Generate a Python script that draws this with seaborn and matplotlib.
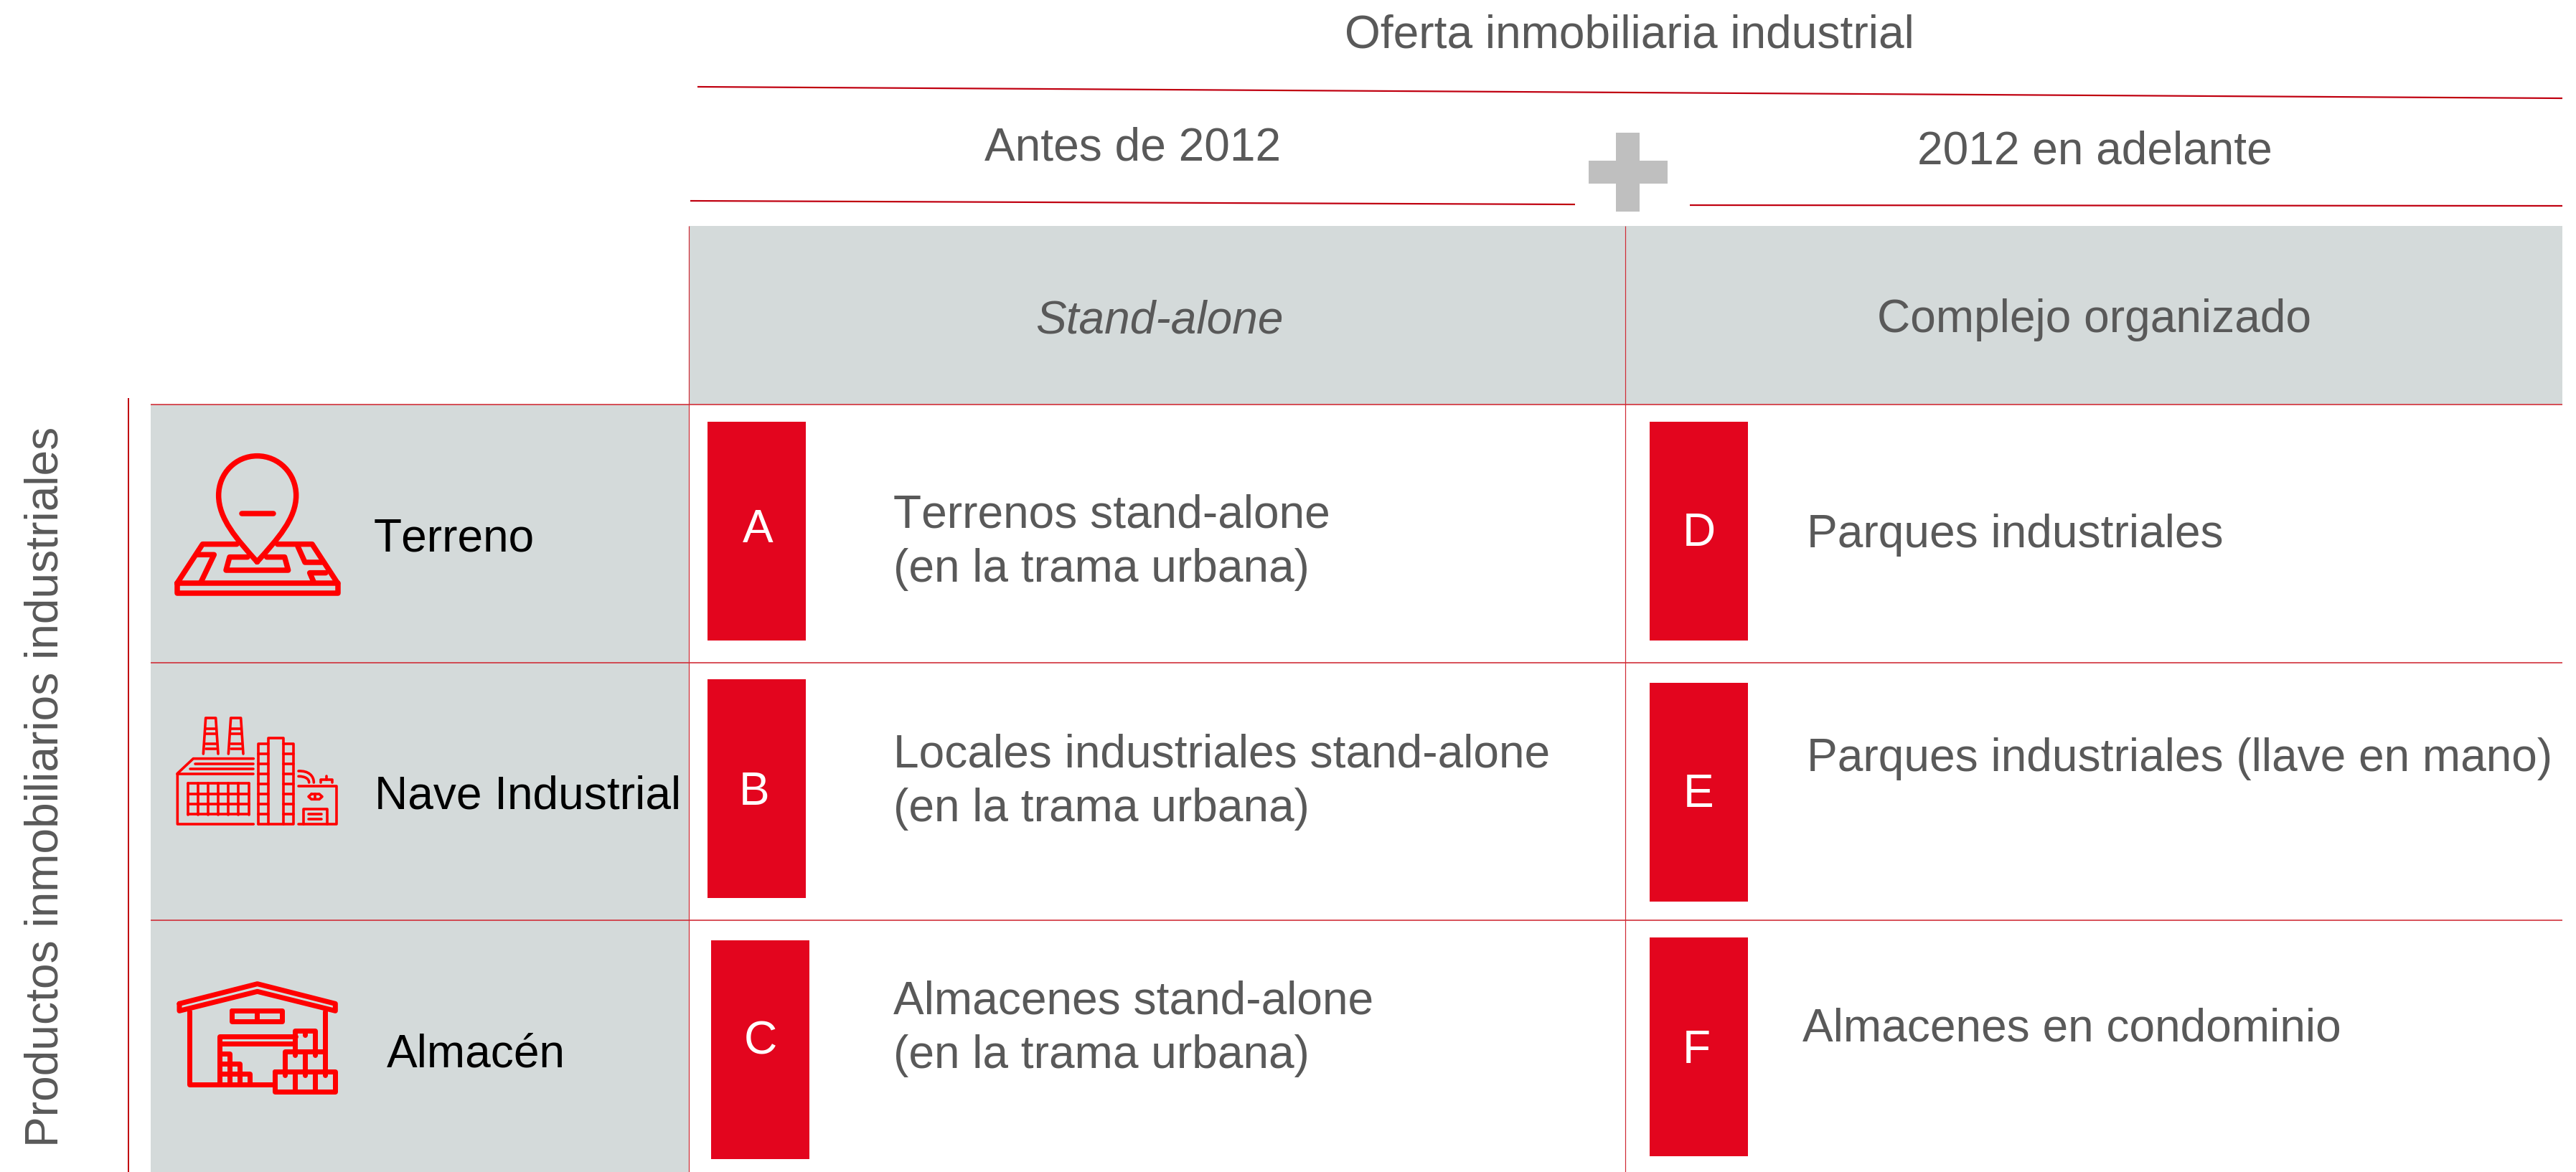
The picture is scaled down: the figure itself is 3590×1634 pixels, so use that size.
import matplotlib
matplotlib.use('Agg')
import matplotlib.pyplot as plt
from matplotlib.patches import Rectangle, PathPatch
from matplotlib.path import Path
import seaborn as sns

# Texts of the table
title_top = 'Oferta inmobiliaria industrial'
period_labels = ['Antes de 2012', '2012 en adelante']
column_labels = ['Stand-alone', 'Complejo organizado']
side_label = 'Productos inmobiliarios industriales'
row_labels = ['Terreno', 'Nave Industrial', 'Almacén']
tile_letters = ['A', 'B', 'C', 'D', 'E', 'F']
cell_texts = ['Terrenos stand-alone\n(en la trama urbana)',
              'Locales industriales stand-alone\n(en la trama urbana)',
              'Almacenes stand-alone\n(en la trama urbana)',
              'Parques industriales',
              'Parques industriales (llave en mano)',
              'Almacenes en condominio']

RED = '#E3051E'
ICON = '#FF0000'
GREY_BG = '#D4DADA'
TEXT = '#595959'
RULE = '#C00010'
THIN = '#D02A34'

W, H = 3591, 1634
DPI = 100
FS = 64 * 72 / DPI

sns.set_theme(style='white')
plt.rcParams['font.family'] = ['Liberation Sans', 'DejaVu Sans']
plt.rcParams['text.kerning_factor'] = 8

fig = plt.figure(figsize=(W / DPI, H / DPI), dpi=DPI)
ax = fig.add_axes([0, 0, 1, 1])
ax.set_xlim(0, W)
ax.set_ylim(H, 0)
ax.set_axis_off()
sns.despine(ax=ax, left=True, bottom=True)


def box(x0, y0, x1, y1, color, z=1):
    ax.add_patch(Rectangle((x0, y0), x1 - x0, y1 - y0, fc=color, ec='none', zorder=z))


def label(x, y, s, color=TEXT, **kw):
    ax.text(x, y, s, color=color, fontsize=FS, ha='left', va='baseline',
            linespacing=1.0, **kw)


def rule(x0, y0, x1, y1, color=THIN, px=1.6, z=3):
    ax.plot([x0, x1], [y0, y1], color=color, lw=px * 72 / DPI, zorder=z,
            solid_capstyle='butt')


# backgrounds
box(960, 315, 3571, 564, GREY_BG)
box(210, 564, 960, 1634, GREY_BG)

# rules
rule(972, 121, 3571, 137, RULE, 2.2)
rule(962, 280, 2195, 285, RULE, 2.2)
rule(2355, 286, 3571, 287, RULE, 2.2)
rule(179, 555, 179, 1634, RULE, 2)
for yy in [564, 924, 1283]:
    rule(210, yy, 3571, yy)
for xx in [960, 2265]:
    rule(xx, 315, xx, 1634, THIN, 1.2)

# plus sign
box(2252, 185, 2285, 295, '#BFBFBF')
box(2214, 224, 2324, 256, '#BFBFBF')

# headers
label(1874, 66, title_top)
label(1372, 223, period_labels[0])
label(2672, 228, period_labels[1])
label(1443, 464, column_labels[0], style='italic')
label(2616, 463, column_labels[1])
ax.text(81, 1599, side_label, color=TEXT, fontsize=FS, rotation=90,
        ha='left', va='baseline', rotation_mode='anchor')

# row names
for name, xx, yy in zip(row_labels, [521, 522, 539], [768, 1128, 1487]):
    label(xx, yy, name, color='black')

# red tiles with letters
tile_x = [986, 986, 991, 2299, 2299, 2299]
tile_y = [588, 947, 1311, 588, 952, 1307]
letter_x = [1056, 1051, 1060, 2368, 2367, 2364]
letter_y = [739, 1105, 1453, 744, 1108, 1465]
for i, letter in enumerate(tile_letters):
    box(tile_x[i], tile_y[i], tile_x[i] + 137, tile_y[i] + 305, RED, z=2)
    ax.text(letter_x[i], letter_y[i], letter, color='white', fontsize=FS,
            ha='center', va='center', zorder=4)

# cell texts, each line placed on its own baseline
text_x = [1245, 1245, 1245, 2518, 2518, 2512]
text_y = [735, 1069, 1413, 763, 1075, 1452]
for s, xx, yy in zip(cell_texts, text_x, text_y):
    for k, line in enumerate(s.split('\n')):
        label(xx, yy + k * 76, line)


# icons, given in pixels of a 3x crop
def icon_lines(lines, ox, oy, px):
    for pts in lines:
        ax.plot([ox + p[0] / 3 for p in pts], [oy + p[1] / 3 for p in pts],
                color=ICON, lw=px * 72 / DPI, solid_capstyle='round',
                solid_joinstyle='round', zorder=5)


def icon_curve(verts, codes, ox, oy, px):
    v = [(ox + a / 3, oy + b / 3) for a, b in verts]
    ax.add_patch(PathPatch(Path(v, codes), fc='none', ec=ICON, lw=px * 72 / DPI,
                           capstyle='round', joinstyle='round', zorder=5))


# terreno
C4 = Path.CURVE4
pin = [(385, 490), (300, 395), (224, 310), (224, 212), (224, 120), (295, 47), (385, 47),
       (475, 47), (548, 120), (548, 212), (548, 310), (470, 395), (385, 490)]
icon_curve(pin, [Path.MOVETO] + [C4] * 12, 230, 620, 7.5)
icon_lines([
    [(320, 287), (452, 287)],
    [(50, 580), (722, 580), (722, 622), (50, 622), (50, 580)],
    [(50, 580), (157, 416), (300, 416)],
    [(470, 416), (615, 416), (722, 580)],
    [(135, 460), (205, 460), (150, 575)],
    [(345, 470), (270, 470), (255, 525), (515, 525), (500, 470), (425, 470)],
    [(555, 425), (585, 492), (655, 492)],
    [(672, 536), (605, 536), (622, 575)],
], 230, 620, 7.5)

# nave
fac = [
    [(160, 198), (170, 48), (212, 48), (222, 198)],
    [(265, 198), (275, 48), (317, 48), (327, 198)],
    [(370, 218), (118, 218), (52, 280), (52, 492), (370, 492)],
    [(125, 240), (370, 240)], [(105, 261), (370, 261)], [(52, 282), (370, 282)],
    [(390, 492), (390, 155), (432, 155)],
    [(495, 155), (538, 155), (538, 492), (390, 492)],
    [(432, 492), (432, 133), (495, 133), (495, 492)],
    [(558, 333), (718, 333), (718, 492), (558, 492)],
    [(580, 492), (580, 428), (677, 428), (677, 492)],
    [(600, 450), (655, 450)], [(600, 472), (655, 472)],
    [(612, 366), (645, 366), (657, 377), (645, 388), (612, 388), (600, 377), (612, 366)],
    [(628, 366), (628, 388)],
    [(652, 318), (652, 306), (698, 306), (698, 318)], [(675, 292), (675, 306)],
]
for yy in [92, 113, 155, 177]:
    fac += [[(172, yy), (212, yy)], [(277, yy), (317, yy)]]
for xx in [95, 137, 180, 222, 265, 307, 350]:
    fac.append([(xx, 322), (xx, 452)])
for yy in [322, 365, 408, 450]:
    fac.append([(95, yy), (350, yy)])
for yy in [198, 240, 282, 324, 366, 408, 450]:
    fac += [[(390, yy), (432, yy)], [(495, yy), (538, yy)]]
icon_lines(fac, 230, 985, 3.6)
icon_curve([(558, 270), (600, 268), (622, 290), (622, 318)],
           [Path.MOVETO, C4, C4, C4], 230, 985, 3.6)
icon_curve([(558, 292), (585, 292), (602, 302), (602, 318)],
           [Path.MOVETO, C4, C4, C4], 230, 985, 3.6)

# almacen
icon_lines([
    [(60, 148), (386, 65), (712, 148), (712, 178), (386, 97), (60, 178), (60, 148)],
    [(102, 180), (102, 485), (455, 485)],
    [(668, 180), (668, 430)],
    [(280, 178), (490, 178), (490, 222), (280, 222), (280, 178)],
    [(385, 178), (385, 222)],
    [(228, 485), (228, 285), (545, 285)],
    [(228, 316), (540, 316)],
    [(228, 358), (270, 358), (270, 400), (312, 400), (312, 442), (354, 442), (354, 485)],
    [(228, 400), (270, 400)], [(228, 442), (312, 442)],
    [(270, 400), (270, 485)], [(312, 442), (312, 485)],
    [(458, 432), (712, 432), (712, 515), (458, 515), (458, 432)],
    [(543, 432), (543, 515)], [(627, 432), (627, 515)],
    [(500, 432), (500, 348), (668, 348)], [(585, 348), (585, 432)],
    [(543, 348), (543, 262), (627, 262), (627, 348)],
    [(585, 270), (585, 278)], [(543, 356), (543, 364)], [(627, 356), (627, 364)],
    [(500, 440), (500, 448)], [(585, 440), (585, 448)], [(668, 440), (668, 448)],
], 230, 1350, 7)

fig.savefig('out.png', dpi=DPI, facecolor='white')
